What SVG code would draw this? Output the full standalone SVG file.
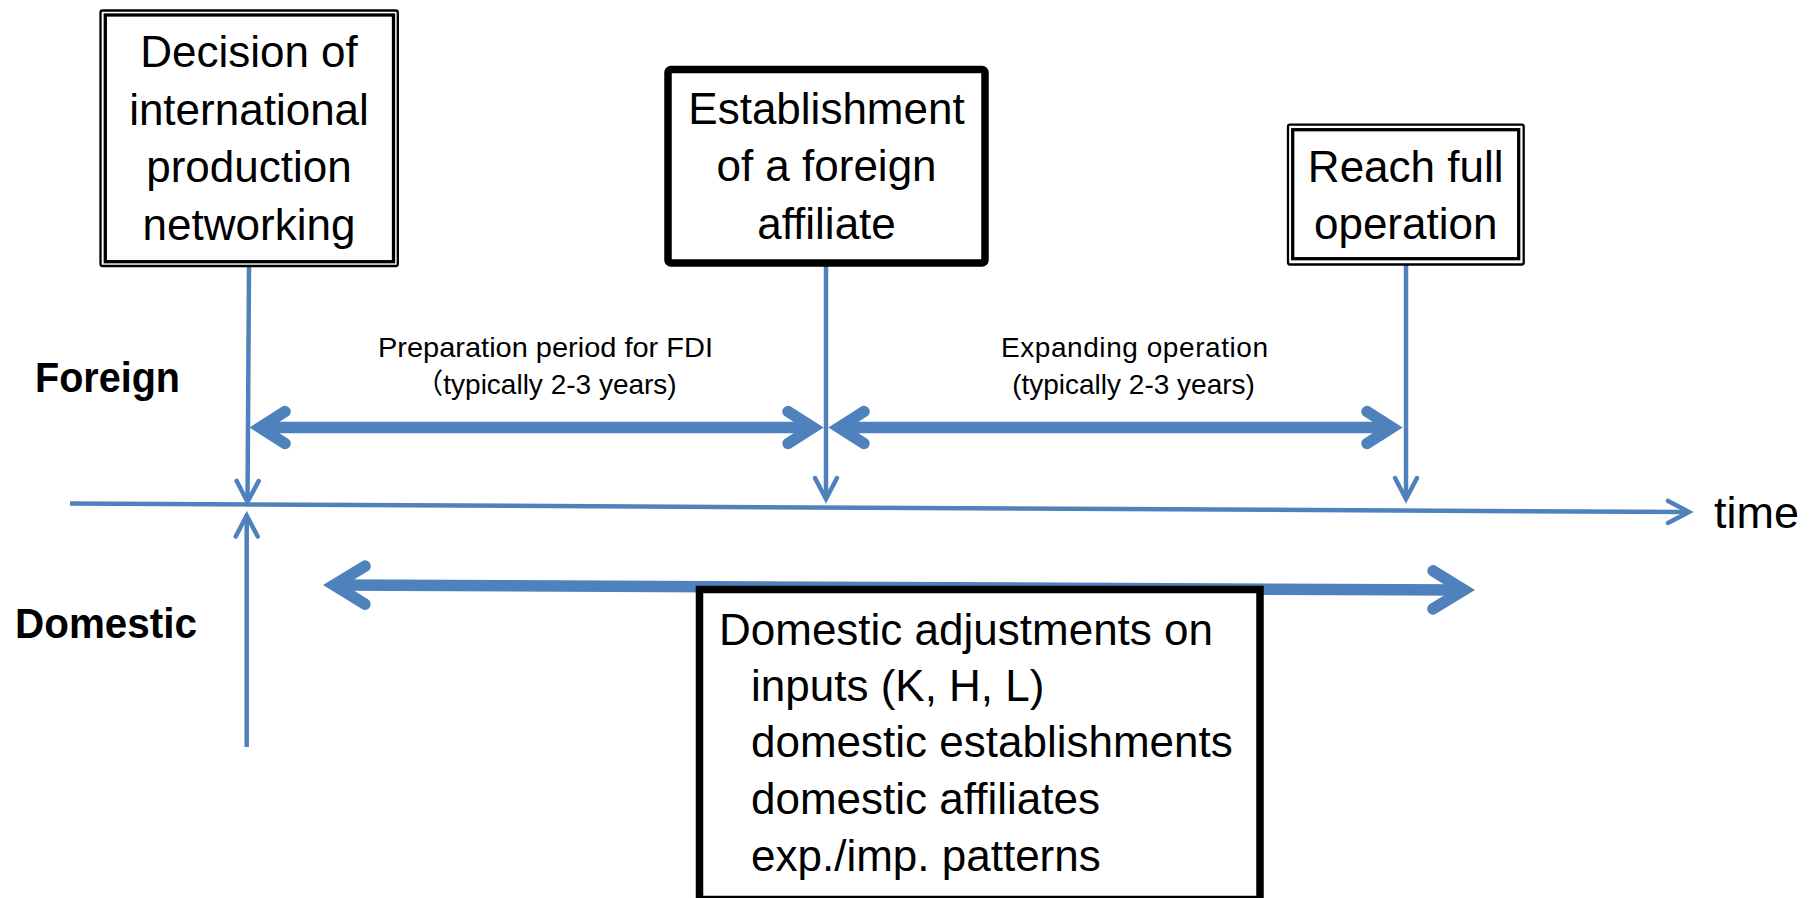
<svg xmlns="http://www.w3.org/2000/svg" width="1818" height="898" viewBox="0 0 1818 898">
<style>
  .t { font-family: "Liberation Sans", "Noto Sans CJK JP", sans-serif; fill: #000; }
  .box { font-size: 44px; text-anchor: middle; }
  .adj { font-size: 44px; }
  .side { font-size: 43px; font-weight: bold; }
  .small { font-size: 28px; text-anchor: middle; }
  .thin { fill: none; stroke: #4F81BD; stroke-width: 4.5; }
  .thick { fill: none; stroke: #4F81BD; stroke-width: 11.5; }
  .frame { fill: #fff; stroke: #000; }
</style>
<defs>
  <marker id="headThin" markerUnits="userSpaceOnUse" orient="auto-start-reverse" markerWidth="40" markerHeight="40" viewBox="-30 -20 40 40" refX="0" refY="0" overflow="visible">
    <path d="M-21,-11 L0,0 L-21,11" fill="none" stroke="#4F81BD" stroke-width="4.5" stroke-linecap="round" stroke-linejoin="miter"/>
  </marker>
  <marker id="headThick" markerUnits="userSpaceOnUse" orient="auto-start-reverse" markerWidth="80" markerHeight="80" viewBox="-40 -40 80 80" refX="0" refY="0" overflow="visible">
    <path d="M-25,-16 L0,0 L-25,16" fill="none" stroke="#4F81BD" stroke-width="11.5" stroke-linecap="round" stroke-linejoin="miter"/>
  </marker>
  <marker id="headThickLong" markerUnits="userSpaceOnUse" orient="auto-start-reverse" markerWidth="80" markerHeight="80" viewBox="-40 -40 80 80" refX="0" refY="0" overflow="visible">
    <path d="M-31,-19 L0,0 L-31,19" fill="none" stroke="#4F81BD" stroke-width="11.5" stroke-linecap="round" stroke-linejoin="miter"/>
  </marker>
</defs>
<rect width="1818" height="898" fill="#fff"/>

<g id="connectors">
  <line class="thin" x1="70" y1="503.5" x2="1689" y2="512" marker-end="url(#headThin)"/>
  <line class="thin" x1="249" y1="267" x2="247.5" y2="502" marker-end="url(#headThin)"/>
  <line class="thin" x1="246.7" y1="747" x2="246.7" y2="515.5" marker-end="url(#headThin)"/>
  <line class="thin" x1="826" y1="264" x2="826" y2="499" marker-end="url(#headThin)"/>
  <line class="thin" x1="1406" y1="264" x2="1406" y2="499" marker-end="url(#headThin)"/>
  <line class="thick" x1="260" y1="427.5" x2="813" y2="427.5" marker-start="url(#headThick)" marker-end="url(#headThick)"/>
  <line class="thick" x1="839" y1="427.5" x2="1392" y2="427.5" marker-start="url(#headThick)" marker-end="url(#headThick)"/>
  <line class="thick" x1="334" y1="585" x2="1464" y2="590" marker-start="url(#headThickLong)" marker-end="url(#headThickLong)"/>
</g>

<g id="node-decision">
  <rect class="frame" x="100.5" y="10.5" width="297.3" height="255.5" rx="2" stroke-width="2.3"/>
  <rect x="105.3" y="15" width="288.2" height="246.7" fill="none" stroke="#000" stroke-width="3.3"/>
  <text class="t box" x="249" y="67">Decision of</text>
  <text class="t box" x="249" y="124.5">international</text>
  <text class="t box" x="249" y="182">production</text>
  <text class="t box" x="249" y="239.5">networking</text>
</g>

<g id="node-establishment">
  <rect class="frame" x="668" y="69.5" width="317" height="193.5" rx="3" stroke-width="7.5"/>
  <text class="t box" x="826.5" y="124">Establishment</text>
  <text class="t box" x="826.5" y="181">of a foreign</text>
  <text class="t box" x="826.5" y="239">affiliate</text>
</g>

<g id="node-reach">
  <rect class="frame" x="1288" y="124.7" width="235.7" height="139.8" rx="2" stroke-width="2.3"/>
  <rect x="1292.7" y="129.7" width="226" height="129" fill="none" stroke="#000" stroke-width="3.3"/>
  <text class="t box" x="1405.7" y="182">Reach full</text>
  <text class="t box" x="1405.7" y="239">operation</text>
</g>

<g id="node-domestic-adjustments">
  <rect class="frame" x="699.5" y="589.5" width="560.5" height="310" stroke-width="7.5"/>
  <text class="t adj" x="719" y="645">Domestic adjustments on</text>
  <text class="t adj" x="751" y="701">inputs (K, H, L)</text>
  <text class="t adj" x="751" y="757">domestic establishments</text>
  <text class="t adj" x="751" y="814">domestic affiliates</text>
  <text class="t adj" x="751" y="870.5">exp./imp. patterns</text>
</g>

<g id="label-foreign">
  <text class="t side" x="35" y="391.5" textLength="145" lengthAdjust="spacingAndGlyphs">Foreign</text>
</g>
<g id="label-domestic">
  <text class="t side" x="15" y="638" textLength="182" lengthAdjust="spacingAndGlyphs">Domestic</text>
</g>
<g id="label-time">
  <text class="t" x="1714" y="528" font-size="45">time</text>
</g>
<g id="label-preparation">
  <text class="t small" x="545.5" y="356.5" textLength="335" lengthAdjust="spacingAndGlyphs">Preparation period for FDI</text>
  <text class="t small" x="546" y="394">（typically 2-3 years)</text>
</g>
<g id="label-expanding">
  <text class="t small" x="1134.5" y="356.5" textLength="267" lengthAdjust="spacing">Expanding operation</text>
  <text class="t small" x="1133.5" y="394">(typically 2-3 years)</text>
</g>
</svg>
